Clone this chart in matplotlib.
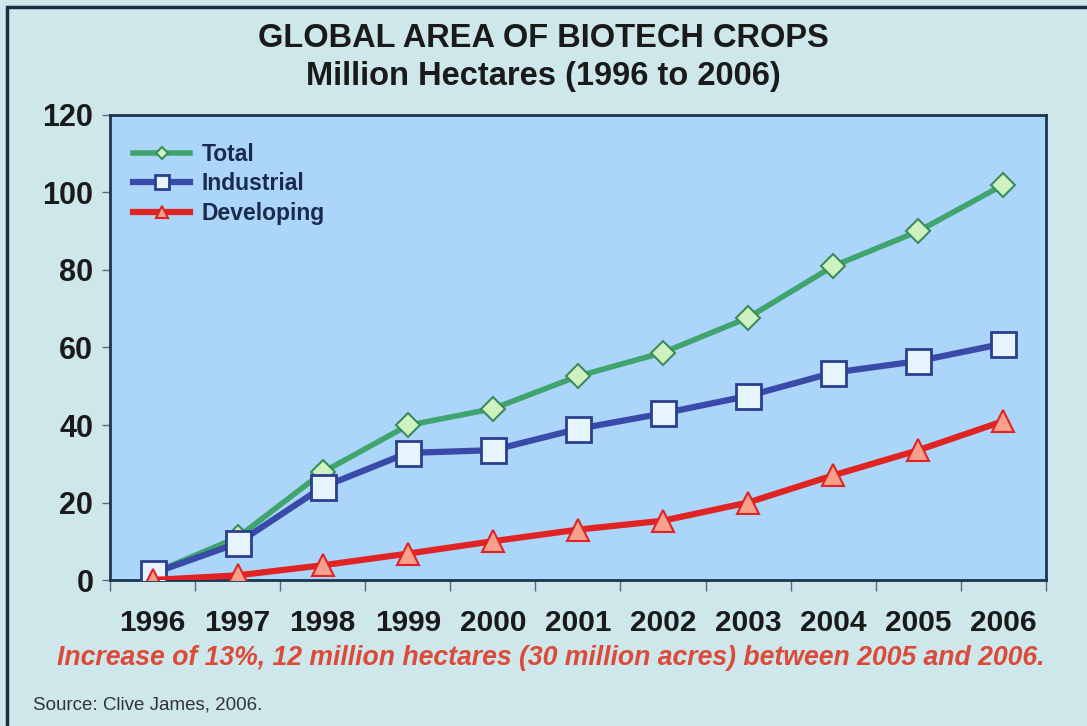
import numpy as np
import matplotlib
matplotlib.use("Agg")
import matplotlib.pyplot as plt
from matplotlib.patches import Rectangle

plt.rcParams['font.family'] = ['Liberation Sans', 'DejaVu Sans']

years = ["1996", "1997", "1998", "1999", "2000", "2001", "2002", "2003", "2004", "2005", "2006"]
total = [1.7, 11.0, 27.8, 39.9, 44.2, 52.6, 58.7, 67.7, 81.0, 90.0, 102.0]
industrial = [1.7, 9.5, 24.0, 32.8, 33.5, 39.0, 43.0, 47.5, 53.5, 56.5, 61.0]
developing = [0.0, 1.2, 3.8, 6.8, 10.0, 13.0, 15.3, 20.0, 27.0, 33.5, 41.0]

fondo = "#cde7ea"
fig = plt.figure(figsize=(10.87, 7.26), dpi=100, facecolor=fondo)
ax = fig.add_axes([0.1012, 0.2011, 0.861, 0.6405])
ax.set_facecolor("#acd5fa")

x = np.arange(len(years))
ax.plot(x, total, color="#3fa46e", lw=4, marker="D", ms=12, mfc="#cdf2c0",
        mec="#3a8c5a", mew=1.5, label="Total", zorder=3)
ax.plot(x, industrial, color="#3a4aa8", lw=4.5, marker="s", ms=18, mfc="#e6f5fd",
        mec="#2b3f8c", mew=2, label="Industrial", zorder=4)
ax.plot(x, developing, color="#e02424", lw=4.5, marker="^", ms=16, mfc="#f8a08c",
        mec="#e02424", mew=1.5, label="Developing", zorder=5)

ax.set_xlim(-0.5, len(years) - 0.5)
ax.set_ylim(0, 120)
ax.set_yticks(range(0, 121, 20))
ax.set_xticks(np.arange(-0.5, len(years), 1.0))
ax.set_xticklabels([])
ax.set_xticks(x, minor=True)
ax.set_xticklabels(years, minor=True, fontsize=21.5, fontweight="bold", color="#1a1a1a")
ax.tick_params(axis="x", which="minor", length=0, pad=21)
ax.tick_params(axis="x", which="major", length=8, width=1, color="#5a6a78", direction="out")
ax.tick_params(axis="y", length=6, width=1, color="#5a6a78", direction="out", pad=6,
               labelsize=22, labelcolor="#1a1a1a")
for t in ax.get_yticklabels():
    t.set_fontweight("bold")
for s in ax.spines.values():
    s.set_color("#1c3550")
    s.set_linewidth(2)

leg = ax.legend(loc="upper left", bbox_to_anchor=(0.0, 0.99), frameon=False,
                prop={"size": 16.5, "weight": "bold"}, handlelength=2.5, handletextpad=0.5,
                labelspacing=0.3, markerscale=0.55, borderaxespad=0.6)
for t in leg.get_texts():
    t.set_color("#1a2a4a")

fig.text(0.5, 0.947, "GLOBAL AREA OF BIOTECH CROPS", ha="center", va="center",
         fontsize=23.5, fontweight="bold", color="#1a1a1a")
fig.text(0.5, 0.895, "Million Hectares (1996 to 2006)", ha="center", va="center",
         fontsize=23.5, fontweight="bold", color="#1a1a1a")
fig.text(0.507, 0.094, "Increase of 13%, 12 million hectares (30 million acres) between 2005 and 2006.",
         ha="center", va="center", fontsize=19.2, fontweight="bold", style="italic", color="#dc4a3a")
fig.text(0.03, 0.029, "Source: Clive James, 2006.", ha="left", va="center",
         fontsize=13.5, color="#333333")

fig.patches.append(Rectangle((0.0065, -0.1), 1.2, 1.09, transform=fig.transFigure,
                             fill=False, edgecolor="#1c2f40", lw=2.5))

fig.savefig("out.png", dpi=100, facecolor=fondo)
